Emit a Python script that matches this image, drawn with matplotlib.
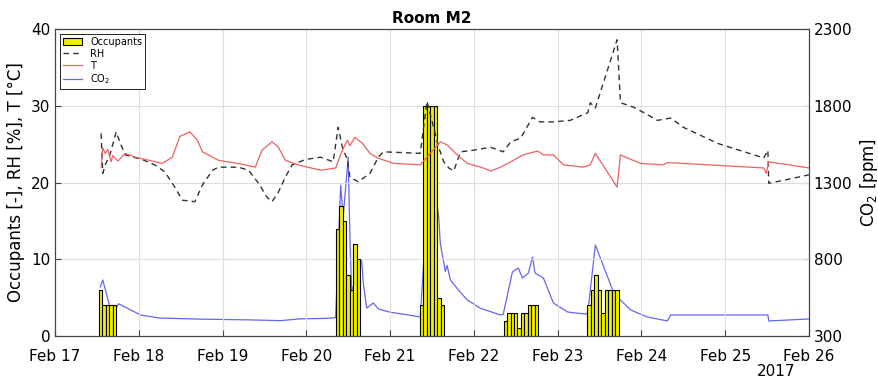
import numpy as np
import pandas as pd
import matplotlib
matplotlib.use("Agg")
import matplotlib.pyplot as plt
import matplotlib.dates as mdates

# occupants, hourly counts per session (first bar centred on the start hour)
occ_start = ["2017-02-17 13:00", "2017-02-20 09:00", "2017-02-21 09:00",
             "2017-02-22 09:00", "2017-02-23 09:00"]
occ_counts = [[6, 4, 4, 4, 4],
              [14, 17, 15, 8, 6, 12, 10],
              [4, 30, 30, 30, 30, 5, 4],
              [2, 3, 3, 3, 1, 3, 3, 4, 4, 4],
              [4, 6, 8, 6, 3, 6, 6, 6, 6]]

# relative humidity (day of February, %)
rh_day = [17.55, 17.57, 17.60, 17.66, 17.73, 17.78, 17.84, 18.04, 18.19, 18.31,
          18.43, 18.52, 18.67, 18.76, 18.88, 18.95, 19.19, 19.31, 19.43, 19.53,
          19.59, 19.66, 19.75, 19.83, 19.99, 20.17, 20.32, 20.38, 20.43, 20.49,
          20.52, 20.62, 20.76, 20.86, 20.92, 21.36, 21.44, 21.50, 21.58, 21.64,
          21.70, 21.76, 21.84, 21.99, 22.20, 22.35, 22.44, 22.56, 22.70, 22.79,
          22.95, 23.15, 23.36, 23.39, 23.45, 23.71, 23.75, 23.91, 24.03, 24.19,
          24.35, 24.50, 24.91, 25.46, 25.51, 25.52, 25.70, 26.00]
rh_val = [26.4, 21.2, 22.3, 23.8, 26.6, 25.1, 23.6, 23.0, 22.3, 21.4,
          19.4, 17.7, 17.5, 19.7, 21.6, 22.0, 22.0, 21.6, 19.9, 18.1,
          17.5, 18.6, 20.7, 22.3, 23.0, 23.3, 22.7, 27.2, 24.6, 23.0,
          20.7, 20.1, 21.2, 23.3, 24.0, 23.8, 30.6, 28.0, 24.6, 22.7,
          21.9, 21.5, 24.0, 24.2, 24.6, 24.0, 25.3, 25.8, 28.5, 27.9,
          27.9, 28.1, 29.1, 30.4, 29.7, 38.6, 30.4, 29.8, 29.1, 28.1,
          28.4, 27.2, 25.1, 23.2, 24.2, 19.9, 20.3, 21.0]

# temperature (day of February, degC)
t_day = [17.55, 17.57, 17.60, 17.63, 17.67, 17.69, 17.75, 17.84, 17.96, 18.08,
         18.28, 18.40, 18.49, 18.61, 18.70, 18.76, 18.95, 19.27, 19.39, 19.47,
         19.59, 19.66, 19.75, 19.90, 20.17, 20.35, 20.43, 20.49, 20.52, 20.58,
         20.67, 20.76, 20.85, 21.04, 21.36, 21.48, 21.60, 21.68, 21.80, 21.92,
         22.11, 22.20, 22.32, 22.44, 22.59, 22.76, 22.83, 22.95, 23.07, 23.30,
         23.39, 23.45, 23.71, 23.75, 23.83, 23.99, 24.26, 24.31, 25.46, 25.49,
         25.52, 26.00]
t_val = [22.0, 24.5, 23.8, 24.3, 22.7, 23.5, 22.8, 23.8, 23.3, 23.0,
         22.5, 23.3, 26.0, 26.6, 25.5, 24.0, 22.9, 22.3, 22.0, 24.2,
         25.3, 24.7, 22.9, 22.3, 21.6, 21.9, 24.2, 25.5, 24.8, 25.9,
         25.1, 23.8, 23.2, 22.5, 22.3, 23.8, 25.3, 24.9, 23.6, 22.5,
         21.9, 21.5, 22.0, 22.7, 23.6, 24.1, 23.6, 23.6, 22.3, 22.0,
         22.3, 23.8, 19.4, 23.6, 23.2, 22.5, 22.3, 22.6, 21.9, 21.2,
         22.7, 21.9]

# CO2 (day of February, ppm)
co2_day = [17.54, 17.57, 17.65, 17.69, 17.76, 18.02, 18.25, 18.73, 19.33, 19.69,
           19.93, 20.25, 20.35, 20.41, 20.44, 20.50, 20.52, 20.54, 20.58, 20.62,
           20.66, 20.68, 20.72, 20.80, 20.86, 21.00, 21.22, 21.36, 21.40, 21.46,
           21.54, 21.58, 21.60, 21.66, 21.68, 21.72, 21.80, 21.92, 22.08, 22.32,
           22.35, 22.46, 22.53, 22.58, 22.65, 22.70, 22.73, 22.83, 22.95, 23.12,
           23.33, 23.36, 23.45, 23.67, 23.75, 23.87, 24.07, 24.31, 24.35, 25.51,
           25.52, 26.00]
co2_val = [620, 665, 500, 450, 510, 437, 417, 410, 405, 400,
           412, 415, 420, 1283, 1075, 1466, 945, 600, 645, 775,
           795, 645, 482, 515, 476, 455, 437, 424, 775, 1300,
           1250, 1075, 900, 720, 760, 665, 610, 535, 480, 437,
           440, 717, 743, 678, 710, 815, 710, 678, 515, 456,
           443, 450, 893, 580, 535, 470, 424, 398, 437, 437,
           398, 411]

base = pd.Timestamp("2017-02-01")
def to_time(days):
    return base + pd.to_timedelta(np.array(days) - 1, unit="D")

plt.rcParams['font.family'] = ['DejaVu Sans']
fig = plt.figure(figsize=(8.79, 3.82), dpi=100)
ax = fig.add_axes([0.0626, 0.1204, 0.8577, 0.8036])
ax2 = ax.twinx()
ax.set_zorder(2)
ax.patch.set_visible(False)

# occupant bars
bar_handle = None
for start, counts in zip(occ_start, occ_counts):
    times = pd.date_range(start, periods=len(counts), freq="h")
    bars = ax.bar(times, counts, width=1 / 24, color="#f0f000", edgecolor="black",
                  linewidth=0.8, zorder=2)
    if bar_handle is None:
        bar_handle = bars

rh_line, = ax.plot(to_time(rh_day), rh_val, color="#333333", linestyle="--",
                   linewidth=1.0, dashes=(4, 3), zorder=3)
t_line, = ax.plot(to_time(t_day), t_val, color="#f06060", linewidth=0.9, zorder=3)
co2_line, = ax2.plot(to_time(co2_day), co2_val, color="#6666ee", linewidth=0.9)

ax.set_xlim(pd.Timestamp("2017-02-17"), pd.Timestamp("2017-02-26"))
ax.set_ylim(0, 40)
ax2.set_ylim(300, 2300)
ax.set_yticks([0, 10, 20, 30, 40])
ax2.set_yticks([300, 800, 1300, 1800, 2300])
ax.xaxis.set_major_locator(mdates.DayLocator())
ax.xaxis.set_major_formatter(mdates.DateFormatter("%b %d"))

ax.grid(True, color="#dddddd", linewidth=0.8)
ax.set_axisbelow(True)
for a in (ax, ax2):
    a.tick_params(direction="in", labelsize=11, length=4, color="#444444")
    for s in a.spines.values():
        s.set_color("#444444")
ax.tick_params(axis="x", pad=9)
ax.set_ylabel("Occupants [-], RH [%], T [°C]", fontsize=12)
ax2.set_ylabel("CO$_2$ [ppm]", fontsize=12)
ax.set_title("Room M2", fontsize=11, fontweight="bold", pad=4)
fig.text(0.883, 0.008, "2017", fontsize=11, ha="center", va="bottom")

leg = ax.legend([bar_handle, rh_line, t_line, co2_line],
                ["Occupants", "RH", "T", "CO$_2$"], loc="upper left",
                fontsize=7, handlelength=2.0, borderpad=0.3, labelspacing=0.2,
                fancybox=False, framealpha=1, edgecolor="black")
leg.get_frame().set_linewidth(0.6)

fig.savefig("out.png", dpi=100)
